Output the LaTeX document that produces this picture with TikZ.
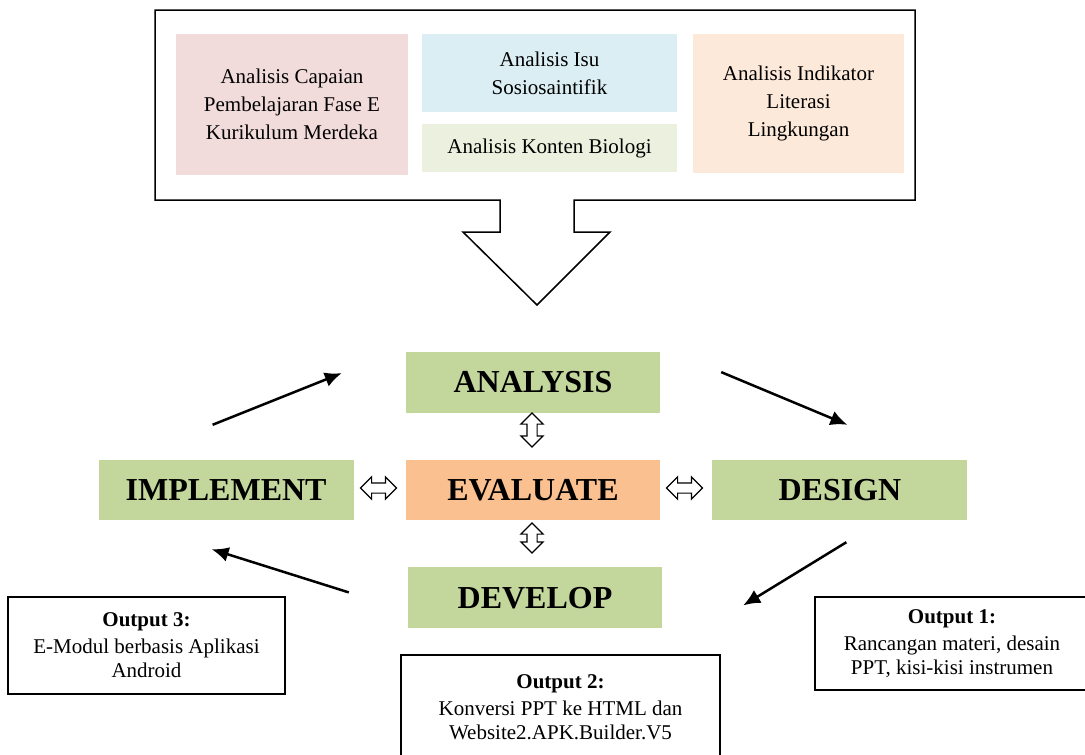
\documentclass[tikz,border=0pt]{standalone}
\usepackage{fontspec}
\setmainfont{Liberation Serif}
\usetikzlibrary{arrows.meta,calc,positioning,shapes.arrows}

\definecolor{phasegreen}{HTML}{C3D69B}
\definecolor{evalorange}{HTML}{FAC090}
\definecolor{boxpink}{HTML}{F2DCDB}
\definecolor{boxblue}{HTML}{DAEEF3}
\definecolor{boxgreen}{HTML}{EBF1DE}
\definecolor{boxpeach}{HTML}{FDE9D9}

\begin{document}
\begin{tikzpicture}[x=1pt,y=-1pt,
            inbox/.style={align=center,inner sep=0,font=\fontsize{21}{28}\selectfont},
            phase/.style={fill=phasegreen,minimum width=255,minimum height=60,inner sep=0,font=\fontsize{32}{36}\selectfont\bfseries},
            outbox/.style={draw,line width=1.5pt,align=center,inner sep=0,font=\fontsize{21}{24}\selectfont},
            dbl/.style={double arrow,draw,fill=white,line width=1.2pt,minimum height=36,double arrow head extend=6,inner xsep=0,inner ysep=4.5},
            cyc/.style={line width=2.5pt,-{Latex[length=17pt,width=15pt]}}
          ]
          \useasboundingbox (0,0) rectangle (1085,755);
          \clip (0,0) rectangle (1085,755);

          %analysis sources
          \draw[line width=1.5pt,line join=miter] (155,10) -- (915,10) -- (915,200) -- (574,200) -- (574,232) -- (610,232)
            -- (537,305) -- (463,232) -- (500,232) -- (500,200) -- (155,200) -- cycle;
          \node[inbox,fill=boxpink,minimum width=232,minimum height=141] (capaian) at (292,104.5)
            {Analisis Capaian\\Pembelajaran Fase E\\Kurikulum Merdeka};
          \node[inbox,fill=boxblue,minimum width=255,minimum height=78] (isu) at (549.5,73) {Analisis Isu\\Sosiosaintifik};
          \node[inbox,fill=boxgreen,minimum width=255,minimum height=48] (konten) at (549.5,148) {Analisis Konten Biologi};
          \node[inbox,fill=boxpeach,minimum width=211,minimum height=139] (indikator) at (798.5,103.5)
            {Analisis Indikator\\Literasi\\Lingkungan};

          %ADDIE
          \node[phase,fill=evalorange,minimum width=254] (evaluate) at (533,490) {EVALUATE};
          \node[phase,above=47pt of evaluate,minimum width=254,minimum height=61] (analysis) {ANALYSIS};
          \node[phase,left=52pt of evaluate] (implement) {IMPLEMENT};
          \node[phase,right=52pt of evaluate] (design) {DESIGN};
          \node[phase,below=47pt of evaluate,xshift=2pt,minimum width=254,minimum height=61] (develop) {DEVELOP};

          %evaluate links
          \node[dbl,rotate=90,minimum height=34] (e1) at (532,430) {};
          \node[dbl,rotate=90,minimum height=30] (e2) at (532,538) {};
          \node[dbl] (e3) at (378.5,488) {};
          \node[dbl] (e4) at (684.5,488) {};

          %cycle
          \coordinate (c1) at ($(implement.north)+(-13.5,-35)$);
          \coordinate (c2) at ($(analysis.west)+(-64,-9)$);
          \coordinate (c3) at ($(analysis.east)+(61,-10)$);
          \coordinate (c4) at ($(design.north)+(7.5,-35)$);
          \coordinate (c5) at ($(design.south)+(6.5,22)$);
          \coordinate (c6) at ($(develop.east)+(81,7.5)$);
          \coordinate (c7) at ($(develop.west)+(-59,-5.5)$);
          \coordinate (c8) at ($(implement.south)+(-14.5,29)$);
          \draw[cyc] (c1) -- (c2);
          \draw[cyc] (c3) -- (c4);
          \draw[cyc] (c5) -- (c6);
          \draw[cyc] (c7) -- (c8);

          %outputs
          \node[outbox,minimum width=277,minimum height=97] (out3) at (146.5,645.5)
            {\textbf{Output 3:}\\[3pt]E-Modul berbasis Aplikasi\\Android};
          \node[outbox,minimum width=319,minimum height=104] (out2) at (560.5,707)
            {\textbf{Output 2:}\\[3pt]Konversi PPT ke HTML dan\\Website2.APK.Builder.V5};
          \node[outbox,minimum width=274,minimum height=93] (out1) at (952,643.5)
            {\textbf{Output 1:}\\[3pt]Rancangan materi, desain\\PPT, kisi-kisi instrumen};
      \end{tikzpicture}
\end{document}
